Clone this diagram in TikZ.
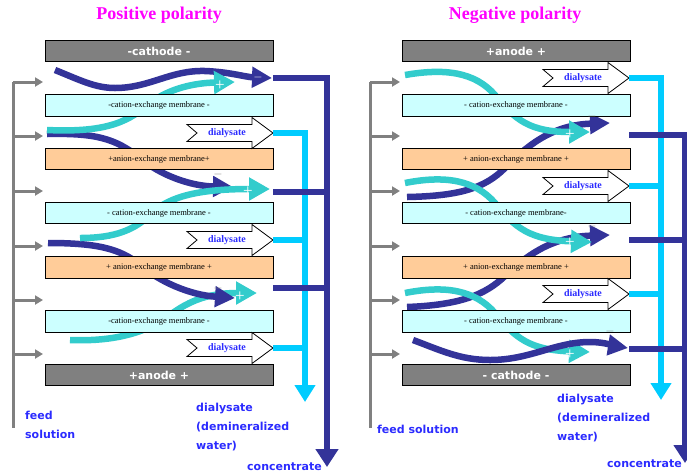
\documentclass[tikz,border=0pt]{standalone}
\usepackage{fontspec}
\setmainfont{Liberation Serif}
\newfontfamily\flowfont{DejaVu Sans}
\usetikzlibrary{arrows.meta}
\definecolor{ionblue}{HTML}{333399}
\definecolor{ioncyan}{HTML}{33CCCC}
\definecolor{dialblue}{HTML}{00CCFF}
\definecolor{feedgray}{HTML}{808080}
\definecolor{cationfill}{HTML}{CCFFFF}
\definecolor{anionfill}{HTML}{FFCC99}
\definecolor{textblue}{HTML}{2B2BFF}
\definecolor{titlepink}{HTML}{FF00FF}
\tikzset{
  membrane/.style={rectangle, draw, line width=0.8pt, minimum width=228pt, minimum height=21.5pt, inner sep=0pt, font=\fontsize{8.5}{10}\selectfont},
  cation/.style={membrane, fill=cationfill},
  anion/.style={membrane, fill=anionfill},
  electrode/.style={membrane, fill=feedgray, text=white, font=\flowfont\bfseries\fontsize{11}{13}\selectfont},
  headline/.style={text=titlepink, font=\bfseries\fontsize{18}{20}\selectfont},
  flowtext/.style={text=textblue, align=left, inner sep=0pt, font=\flowfont\bfseries\fontsize{11}{19}\selectfont},
  dialshape/.style={draw, fill=white, line width=0.8pt},
  dialtext/.style={text=textblue, inner sep=0pt, font=\bfseries\fontsize{10}{12}\selectfont},
  feedline/.style={feedgray, line width=3pt},
  feed/.style={feedline, -{Triangle[length=8pt,width=9pt]}},
  dialline/.style={dialblue, line width=6pt},
  concline/.style={ionblue, line width=6.5pt},
  anionflow/.style={ionblue, line width=6.5pt, -{Triangle[length=20pt,width=20pt]}},
  cationflow/.style={ioncyan, line width=6.5pt, -{Triangle[length=21pt,width=22pt]}},
  plussign/.style={text=white, inner sep=0pt, font=\fontsize{17}{17}\selectfont},
  minussign/.style={inner sep=0pt, font=\fontsize{12}{12}\selectfont}
}

\begin{document}
\begin{tikzpicture}[x=1pt, y=-1pt]
  \useasboundingbox (0,0) rectangle (687,475);

  % ion paths, positive polarity
  \draw[anionflow] (55,70) .. controls (80,80) and (95,88) .. (115,88) .. controls (150,88) and (170,70) .. (205,71) .. controls (230,72) and (245,77) .. (272,78);
  \draw[anionflow] (47,134) .. controls (95,133) and (115,138) .. (140,158) .. controls (160,175) and (190,186) .. (233,187);
  \draw[cationflow] (47,130) .. controls (110,133) and (130,120) .. (150,103) .. controls (170,88) and (195,83) .. (235,82);
  \draw[cationflow] (70,340) .. controls (120,342) and (150,330) .. (170,315) .. controls (190,300) and (210,293) .. (257,293);
  \draw[anionflow] (48,243) .. controls (95,243) and (120,248) .. (140,265) .. controls (160,282) and (190,295) .. (235,298);
  \draw[cationflow] (80,238) .. controls (115,238) and (135,230) .. (152,213) .. controls (170,196) and (200,189) .. (270,189);

  % ion paths, negative polarity
  \draw[anionflow] (407,197) .. controls (460,196) and (485,188) .. (505,168) .. controls (525,148) and (550,125) .. (610,123);
  \draw[cationflow] (405,75) .. controls (445,68) and (475,72) .. (495,95) .. controls (515,120) and (530,132) .. (590,132);
  \draw[anionflow] (407,307) .. controls (460,305) and (485,295) .. (505,276) .. controls (525,257) and (550,237) .. (610,235);
  \draw[cationflow] (405,183) .. controls (445,175) and (475,180) .. (495,203) .. controls (515,228) and (530,240) .. (592,242);
  \draw[cationflow] (405,293) .. controls (445,285) and (475,290) .. (495,313) .. controls (515,338) and (530,350) .. (590,352);
  \draw[anionflow] (413,340) .. controls (440,350) and (460,360) .. (490,360) .. controls (530,360) and (555,342) .. (590,342) .. controls (605,342) and (615,346) .. (628,348);

  % stacks
  \node[headline] (tL) at (159,15) {Positive polarity};
  \node[electrode] (eL1) at (159,51) {-cathode -};
  \node[cation] (mL1) at (159,105.5) {-cation-exchange membrane -};
  \node[anion] (mL2) at (159,159) {+anion-exchange membrane+};
  \node[cation] (mL3) at (159,213) {- cation-exchange membrane -};
  \node[anion] (mL4) at (159,267.5) {+ anion-exchange membrane +};
  \node[cation] (mL5) at (159,321.5) {-cation-exchange membrane -};
  \node[electrode] (eL2) at (159,375) {+anode +};

  \node[headline] (tR) at (515,15) {Negative polarity};
  \node[electrode] (eR1) at (516,51) {+anode +};
  \node[cation] (mR1) at (516,105.5) {- cation-exchange membrane -};
  \node[anion] (mR2) at (516,159) {+ anion-exchange membrane +};
  \node[cation] (mR3) at (516,213) {- cation-exchange membrane-};
  \node[anion] (mR4) at (516,267.5) {+ anion-exchange membrane +};
  \node[cation] (mR5) at (516,321.5) {- cation-exchange membrane -};
  \node[electrode] (eR2) at (516,375) {- cathode -};

  % dialysate outlets
  \foreach \n/\x/\y in {dL1/273/133, dL2/273/240, dL3/273/348, dR1/629/78, dR2/629/186, dR3/629/294} {
    \draw[dialshape] (\x-86,\y-8.5) -- (\x-21,\y-8.5) -- (\x-21,\y-15.5) -- (\x,\y) -- (\x-21,\y+15.5) -- (\x-21,\y+8.5) -- (\x-86,\y+8.5) -- (\x-76,\y) -- cycle;
    \coordinate (\n-tip) at (\x,\y);
    \node[dialtext] (\n) at (\x-46,\y) {dialysate};
  }

  % signs on the ions
  \node[minussign, text=white] (sL1) at (258,77) {$-$};
  \node[plussign] (pL1) at (220,86) {+};
  \node[minussign, text=feedgray] (sL2) at (218,174) {$-$};
  \node[plussign] (pL2) at (248,192) {+};
  \node[minussign, text=feedgray] (sL3) at (218,288) {$-$};
  \node[plussign] (pL3) at (240,297) {+};
  \node[plussign] (pR1) at (570,135) {+};
  \node[minussign, text=feedgray] (sR1) at (592,116) {$-$};
  \node[plussign] (pR2) at (570,243) {+};
  \node[minussign, text=feedgray] (sR2) at (592,226) {$-$};
  \node[plussign] (pR3) at (570,355) {+};
  \node[minussign, text=feedgray] (sR3) at (610,331) {$-$};

  % feed
  \coordinate (fL-top) at (13,82);
  \coordinate (fL-bot) at (13,428);
  \coordinate (fR-top) at (370,82);
  \coordinate (fR-bot) at (370,428);
  \draw[feedline] (fL-top) -- (fL-bot);
  \draw[feedline] (fR-top) -- (fR-bot);
  \foreach \y [count=\i] in {82,136,191,246,300,354} {
    \coordinate (fL\i) at (43,\y);
    \coordinate (fR\i) at (400,\y);
    \draw[feed] (fL\i -| fL-top) -- (fL\i);
    \draw[feed] (fR\i -| fR-top) -- (fR\i);
  }

  % collectors
  \coordinate (dL-end) at (305,402);
  \coordinate (dR-end) at (661,400);
  \coordinate (cL1) at (273,78);
  \coordinate (cL2) at (273,192);
  \coordinate (cL3) at (273,288);
  \coordinate (cL-end) at (327,467);
  \coordinate (cR1) at (629,135);
  \coordinate (cR2) at (629,240);
  \coordinate (cR3) at (629,349);
  \coordinate (cR-end) at (685,463);
  \draw[dialline, -{Triangle[length=17pt,width=20pt]}] (dL1-tip) -| (dL-end);
  \draw[dialline] (dL2-tip) -- (dL2-tip -| dL-end);
  \draw[dialline] (dL3-tip) -- (dL3-tip -| dL-end);
  \draw[dialline, -{Triangle[length=17pt,width=20pt]}] (dR1-tip) -| (dR-end);
  \draw[dialline] (dR2-tip) -- (dR2-tip -| dR-end);
  \draw[dialline] (dR3-tip) -- (dR3-tip -| dR-end);
  \draw[concline, -{Triangle[length=18pt,width=22pt]}] (cL1) -| (cL-end);
  \draw[concline] (cL2) -- (cL2 -| cL-end);
  \draw[concline] (cL3) -- (cL3 -| cL-end);
  \draw[concline, -{Triangle[length=18pt,width=22pt]}] (cR1) -| (cR-end);
  \draw[concline] (cR2) -- (cR2 -| cR-end);
  \draw[concline] (cR3) -- (cR3 -| cR-end);

  % stream names
  \node[flowtext, anchor=west] (feedL) at (25,425) {feed\\solution};
  \node[flowtext, anchor=west] (dialL) at (196,427) {dialysate\\(demineralized\\water)};
  \node[flowtext, anchor=west] (concL) at (247,467) {concentrate};
  \node[flowtext, anchor=west] (feedR) at (377,429) {feed solution};
  \node[flowtext, anchor=west] (dialR) at (557,418) {dialysate\\(demineralized\\water)};
  \node[flowtext, anchor=west] (concR) at (607,464) {concentrate};
\end{tikzpicture}
\end{document}
